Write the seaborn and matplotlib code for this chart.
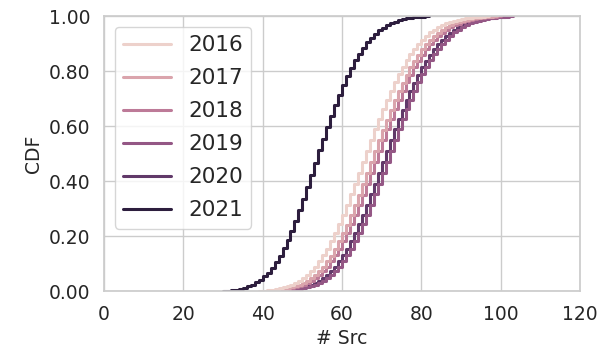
import numpy as np
import pandas as pd
import seaborn as sns
import matplotlib
matplotlib.use("Agg")
import matplotlib.pyplot as plt
from matplotlib.ticker import FormatStrFormatter

# Number of distinct sources per sample, tallied per year.
years = ["2016", "2017", "2018", "2019", "2020", "2021"]

# smallest "# Src" value in each year's tally
src_min = [39, 41, 42, 45, 44, 30]

counts_2016 = [1, 1, 1, 2, 2, 3, 3, 4, 5, 7, 8, 10, 12, 14, 16, 19, 22, 24, 27, 30,
               32, 34, 36, 38, 39, 40, 40, 40, 39, 38, 37, 36, 34, 33, 31, 29, 26, 24,
               22, 20, 18, 16, 14, 12, 10, 9, 8, 6, 5, 4, 4, 3, 2, 2, 2, 1, 1, 1, 1]
counts_2017 = [1, 1, 1, 2, 2, 3, 3, 4, 5, 6, 8, 10, 12, 14, 17, 19, 21, 24, 27, 29,
               32, 34, 36, 38, 39, 40, 40, 40, 39, 38, 37, 36, 34, 33, 31, 29, 27, 24,
               22, 20, 18, 16, 14, 12, 11, 9, 8, 6, 5, 4, 4, 3, 2, 2, 2, 1, 1, 1, 1]
counts_2018 = [1, 1, 1, 2, 2, 3, 3, 4, 5, 7, 8, 10, 12, 14, 16, 19, 22, 24, 27, 30,
               32, 34, 36, 37, 39, 40, 40, 40, 39, 38, 37, 36, 34, 33, 31, 28, 26, 24,
               22, 20, 18, 16, 14, 12, 10, 9, 8, 6, 5, 5, 4, 3, 2, 2, 2, 1, 1, 1, 1]
counts_2019 = [1, 1, 1, 2, 2, 3, 3, 4, 5, 7, 8, 10, 12, 14, 16, 19, 22, 24, 27, 30,
               32, 34, 36, 38, 39, 40, 40, 40, 39, 38, 37, 36, 34, 33, 31, 29, 26, 24,
               22, 20, 18, 16, 14, 12, 10, 9, 8, 6, 5, 4, 4, 3, 2, 2, 2, 1, 1, 1, 1]
counts_2020 = [1, 1, 1, 2, 2, 3, 3, 4, 5, 7, 8, 10, 12, 14, 16, 19, 22, 24, 27, 30,
               32, 34, 36, 38, 39, 40, 40, 40, 39, 38, 37, 35, 34, 33, 31, 29, 26, 24,
               22, 20, 18, 16, 14, 12, 10, 9, 8, 6, 5, 4, 4, 3, 3, 2, 2, 1, 1, 1, 1]
counts_2021 = [1, 1, 1, 2, 3, 4, 5, 6, 8, 10, 12, 14, 17, 20, 24, 27, 30, 33, 36, 39,
               41, 43, 44, 44, 44, 43, 42, 41, 39, 37, 35, 32, 30, 27, 24, 22, 19, 17,
               14, 12, 10, 9, 7, 6, 5, 4, 3, 2, 2, 1, 1, 1, 1]

all_counts = [counts_2016, counts_2017, counts_2018, counts_2019, counts_2020, counts_2021]

frames = []
for year, lo, cnt in zip(years, src_min, all_counts):
    frames.append(pd.DataFrame({
        "year": year,
        "src": lo + np.arange(len(cnt)),
        "n": cnt,
    }))
df = pd.concat(frames, ignore_index=True)

sns.set_theme(style="whitegrid")
plt.rcParams["font.family"] = ["DejaVu Sans"]

fig, ax = plt.subplots(figsize=(6.03, 3.58), dpi=100)
fig.subplots_adjust(left=0.1725, right=0.962, top=0.955, bottom=0.187)

palette = sns.cubehelix_palette(len(years))
sns.ecdfplot(data=df, x="src", hue="year", weights="n", hue_order=years,
             palette=palette, lw=2.2, ax=ax)

ax.set_xlim(0, 120)
ax.set_ylim(0, 1)
ax.set_xticks(range(0, 121, 20))
ax.set_yticks(np.linspace(0, 1, 6))
ax.yaxis.set_major_formatter(FormatStrFormatter("%.2f"))
ax.tick_params(labelsize=13.5, pad=4)
ax.set_xlabel("# Src", fontsize=13.5)
ax.set_ylabel("CDF", fontsize=13.5)

sns.move_legend(ax, "upper left", title=None, fontsize=15.5, labelspacing=0.6,
                handlelength=2.2, frameon=True, borderaxespad=0.5)

fig.savefig("out.png", dpi=100)
